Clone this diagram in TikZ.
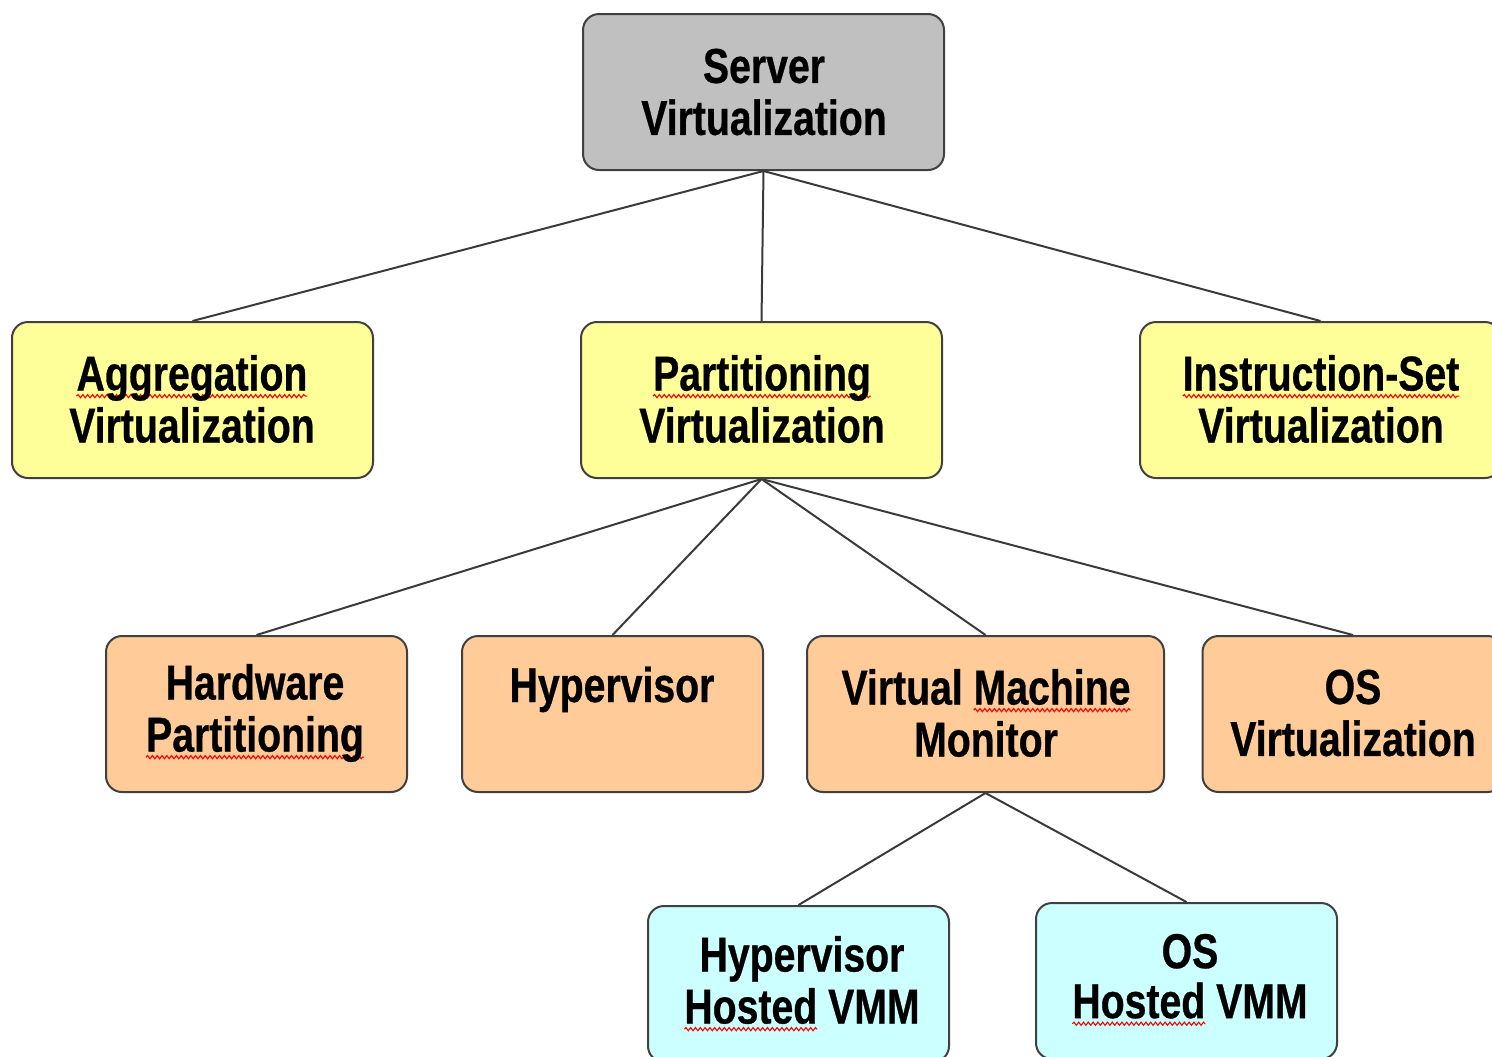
\documentclass[tikz,border=0pt]{standalone}
\usepackage{fontspec}
\setmainfont{Liberation Sans}
\newfontfamily\boxfont[FakeStretch=0.80,FakeBold=0.6]{Liberation Sans}
\usetikzlibrary{decorations.pathmorphing}

\definecolor{edgegrey}{HTML}{404040}
\definecolor{fillgrey}{HTML}{C0C0C0}
\definecolor{fillyellow}{HTML}{FFFF99}
\definecolor{fillorange}{HTML}{FFCC99}
\definecolor{fillcyan}{HTML}{CCFFFF}

% red wavy spell-check underline below a word
\newsavebox\squigbox
\newcommand\squig[1]{%
  \sbox\squigbox{#1}%
  \rlap{\tikz[overlay]\draw[red,line width=0.55pt,decorate,
      decoration={snake,amplitude=0.8pt,segment length=2.4pt}]
      (0pt,-2.8pt) -- (\wd\squigbox,-2.8pt);}%
  \usebox\squigbox}

\tikzset{
  box/.style={draw=edgegrey,line width=1pt,rounded corners=8pt,
    minimum height=78pt,inner sep=0pt},
  wide/.style={box,minimum width=180.5pt},
  narrow/.style={box,minimum width=150.5pt},
  label/.style={font=\boxfont\bfseries\fontsize{24.5}{26}\selectfont,
    align=center,inner sep=0pt,text=black},
  conn/.style={draw=edgegrey!90!black,line width=1pt},
}

\begin{document}
\begin{tikzpicture}[x=0.5pt,y=-0.5pt]
  \useasboundingbox (0,0) rectangle (1492,1056);
  \clip (0,0) rectangle (1492,1056);

  % boxes
  \node[wide,fill=fillgrey]   (srv) at (763.5,92)  {};
  \node[wide,fill=fillyellow] (agg) at (192.5,400) {};
  \node[wide,fill=fillyellow] (par) at (761.5,400) {};
  \node[wide,fill=fillyellow] (ins) at (1320.5,400) {};
  \node[narrow,fill=fillorange] (hw)  at (256.5,714) {};
  \node[narrow,fill=fillorange] (hyp) at (612.5,714) {};
  \node[box,minimum width=178.5pt,fill=fillorange] (vmm) at (985.5,714) {};
  \node[narrow,fill=fillorange] (osv) at (1353,714) {};
  \node[narrow,fill=fillcyan] (hh)  at (798.5,984) {};
  \node[narrow,fill=fillcyan] (osh) at (1186.5,981) {};

  % connectors
  \draw[conn] (srv.south) -- (agg.north);
  \draw[conn] (srv.south) -- (par.north);
  \draw[conn] (srv.south) -- (ins.north);
  \draw[conn] (par.south) -- (hw.north);
  \draw[conn] (par.south) -- (hyp.north);
  \draw[conn] (par.south) -- (vmm.north);
  \draw[conn] (par.south) -- (osv.north);
  \draw[conn] (vmm.south) -- (hh.north);
  \draw[conn] (vmm.south) -- (osh.north);

  % labels
  \node[label] (tsrv) at (764,92)   {Server\\Virtualization};
  \node[label] (tagg) at (192,399)  {\squig{Aggregation}\\Virtualization};
  \node[label] (tpar) at (762,399)  {\squig{Partitioning}\\Virtualization};
  \node[label] (tins) at (1321,399) {\squig{Instruction-Set}\\Virtualization};
  \node[label] (thw)  at (255,713)  {Hardware\\\squig{Partitioning}};
  \node[label,anchor=base] (thyp) at (612,702) {Hypervisor};
  \node[label] (tvmm) at (986,713)  {Virtual \squig{Machine}\\Monitor};
  \node[label] (tosv) at (1353,713) {OS\\Virtualization};
  \node[label] (thh)  at (802,980)  {Hypervisor\\\squig{Hosted} VMM};
  \node[label,text depth=0pt] (tosh) at (1190,976) {OS\\[-1pt]\squig{Hosted} VMM};
\end{tikzpicture}
\end{document}
